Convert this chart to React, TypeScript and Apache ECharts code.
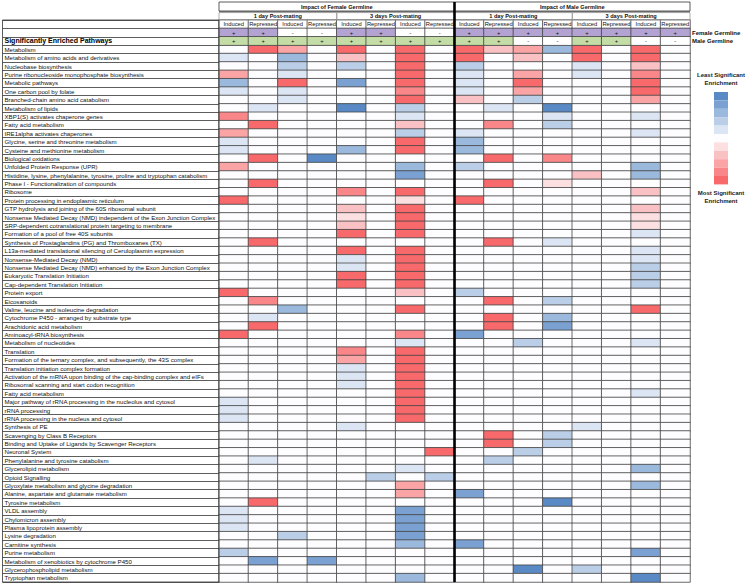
import React, { useEffect, useRef } from 'react';
import * as echarts from 'echarts';

// ---------- DATA ----------
const pathways = [
  'Metabolism',
  'Metabolism of amino acids and derivatives',
  'Nucleobase biosynthesis',
  'Purine ribonucleoside monophosphate biosynthesis',
  'Metabolic pathways',
  'One carbon pool by folate',
  'Branched-chain amino acid catabolism',
  'Metabolism of lipids',
  'XBP1(S) activates chaperone genes',
  'Fatty acid metabolism',
  'IRE1alpha activates chaperones',
  'Glycine, serine and threonine metabolism',
  'Cysteine and methionine metabolism',
  'Biological oxidations',
  'Unfolded Protein Response (UPR)',
  'Histidine, lysine, phenylalanine, tyrosine, proline and tryptophan catabolism',
  'Phase I - Functionalization of compounds',
  'Ribosome',
  'Protein processing in endoplasmic reticulum',
  'GTP hydrolysis and joining of the 60S ribosomal subunit',
  'Nonsense Mediated Decay (NMD) independent of the Exon Junction Complex',
  'SRP-dependent cotranslational protein targeting to membrane',
  'Formation of a pool of free 40S subunits',
  'Synthesis of Prostaglandins (PG) and Thromboxanes (TX)',
  'L13a-mediated translational silencing of Ceruloplasmin expression',
  'Nonsense-Mediated Decay (NMD)',
  'Nonsense Mediated Decay (NMD) enhanced by the Exon Junction Complex',
  'Eukaryotic Translation Initiation',
  'Cap-dependent Translation Initiation',
  'Protein export',
  'Eicosanoids',
  'Valine, leucine and isoleucine degradation',
  'Cytochrome P450 - arranged by substrate type',
  'Arachidonic acid metabolism',
  'Aminoacyl-tRNA biosynthesis',
  'Metabolism of nucleotides',
  'Translation',
  'Formation of the ternary complex, and subsequently, the 43S complex',
  'Translation initiation complex formation',
  'Activation of the mRNA upon binding of the cap-binding complex and eIFs',
  'Ribosomal scanning and start codon recognition',
  'Fatty acid metabolism',
  'Major pathway of rRNA processing in the nucleolus and cytosol',
  'rRNA processing',
  'rRNA processing in the nucleus and cytosol',
  'Synthesis of PE',
  'Scavenging by Class B Receptors',
  'Binding and Uptake of Ligands by Scavenger Receptors',
  'Neuronal System',
  'Phenylalanine and tyrosine catabolism',
  'Glycerolipid metabolism',
  'Opioid Signalling',
  'Glyoxylate metabolism and glycine degradation',
  'Alanine, aspartate and glutamate metabolism',
  'Tyrosine metabolism',
  'VLDL assembly',
  'Chylomicron assembly',
  'Plasma lipoprotein assembly',
  'Lysine degradation',
  'Carnitine synthesis',
  'Purine metabolism',
  'Metabolism of xenobiotics by cytochrome P450',
  'Glycerophospholipid metabolism',
  'Tryptophan metabolism',
];

// enrichment level: -5 = most significant (deep red) ... +5 = least significant (deep blue), 0 = not enriched
const femaleValues = [
  [0, -5, -3, 0, -5, 0, -5, 0],
  [1, 0, 3, 0, -2, 0, -5, 0],
  [0, 0, 2, 0, 2, 0, -5, 0],
  [-3, 0, 1, 0, 0, 0, -5, 0],
  [3, 0, -5, 0, 4, 0, -5, 0],
  [1, 0, 1, 0, 0, 0, -4, 0],
  [0, 0, 1, 0, 0, 0, -5, 0],
  [0, 1, 0, 0, 5, 0, 2, 0],
  [-4, 0, 0, 0, 0, 0, 1, 0],
  [0, -5, 0, 0, 0, 0, -2, 0],
  [-3, 0, 0, 0, 0, 0, 2, 0],
  [1, 0, 0, 0, 0, 0, -5, 0],
  [1, 0, 0, 0, 3, 0, -5, 0],
  [0, -5, 0, 5, 0, 0, 0, 0],
  [-3, 0, 0, 0, 0, 0, 3, 0],
  [0, 0, 0, 0, 0, 0, 4, 0],
  [0, -5, 0, 0, 0, 0, 0, 0],
  [0, 0, 0, 0, -4, 0, -5, 0],
  [-5, 0, 0, 0, 0, 0, -1, 0],
  [0, 0, 0, 0, -2, 0, -5, 0],
  [0, 0, 0, 0, -1, 0, -5, 0],
  [0, 0, 0, 0, -2, 0, -5, 0],
  [0, 0, 0, 0, -5, 0, -5, 0],
  [0, -5, 0, 0, 0, 0, 0, 0],
  [0, 0, 0, 0, -5, 0, -5, 0],
  [0, 0, 0, 0, 1, 0, -5, 0],
  [0, 0, 0, 0, 1, 0, -5, 0],
  [0, 0, 0, 0, -5, 0, -5, 0],
  [0, 0, 0, 0, -5, 0, -5, 0],
  [-5, 0, 0, 0, 0, 0, -2, 0],
  [0, -4, 0, 0, 0, 0, 0, 0],
  [0, 0, 3, 0, 0, 0, -5, 0],
  [0, 1, 0, 0, 0, 0, 0, 0],
  [0, -5, 0, 0, 0, 0, 0, 0],
  [-5, 0, 0, 0, 0, 0, -4, 0],
  [0, 0, 0, 0, 0, 0, 1, 0],
  [0, 0, 0, 0, -4, 0, -5, 0],
  [0, 0, 0, 0, -3, 0, -5, 0],
  [0, 0, 0, 0, 1, 0, -5, 0],
  [0, 0, 0, 0, 1, 0, -5, 0],
  [0, 0, 0, 0, 1, 0, -5, 0],
  [0, 0, 0, 0, 0, 0, -5, 0],
  [1, 0, 0, 0, 0, 0, -5, 0],
  [1, 0, 0, 0, 0, 0, -5, 0],
  [1, 0, 0, 0, 0, 0, -5, 0],
  [0, 0, 0, 0, 1, 0, 0, 0],
  [0, 0, 0, 0, 0, 0, 0, 0],
  [0, 0, 0, 0, 0, 0, 0, 0],
  [0, 0, 0, 0, 0, 0, 0, -5],
  [0, 1, 0, 0, 0, 0, 0, 0],
  [0, 0, 0, 0, 0, 0, 1, 0],
  [0, 0, 0, 0, 0, 2, 0, 2],
  [0, 0, 0, 0, 0, 0, -3, 0],
  [0, 0, 0, 0, 0, 0, -3, 0],
  [0, -5, 0, 0, 0, 0, 0, 0],
  [1, 0, 0, 0, 0, 0, 4, 0],
  [1, 0, 0, 0, 0, 0, 4, 0],
  [1, 0, 0, 0, 0, 0, 4, 0],
  [0, 0, 2, 0, 0, 0, 4, 0],
  [0, 0, 0, 0, 0, 0, 3, 0],
  [2, 0, 0, 0, 0, 0, 0, 0],
  [0, 4, 0, 4, 0, 0, 0, 0],
  [0, 0, 0, 0, 0, 0, 0, 0],
  [0, 0, 0, 0, 0, 0, 3, 0],
];

const maleValues = [
  [-5, -2, -3, 3, -5, 0, -5, 0],
  [-5, 0, -2, 0, -5, 0, -5, 0],
  [2, 0, 0, 0, 1, 0, -2, 0],
  [1, 0, -3, 0, 1, 0, -4, 0],
  [1, 0, -5, 0, 0, 0, -5, 0],
  [1, 0, -3, 0, 0, 0, -5, 0],
  [-2, 0, 2, 0, 0, 0, -3, 0],
  [0, 1, 0, 5, 0, 0, 0, 0],
  [0, 0, 0, 1, 0, 0, 1, 0],
  [0, -4, 0, 2, 0, 0, 0, 0],
  [1, 0, 0, 0, 0, 0, 1, 0],
  [3, 0, 0, 0, 0, 0, 0, 0],
  [3, 0, 0, 0, 0, 0, 0, 0],
  [0, -5, 0, -4, 0, 0, 0, 0],
  [2, 0, 0, 0, 0, 0, 3, 0],
  [0, 0, 0, 0, -2, 0, 3, 0],
  [0, -5, 0, -1, 0, 0, 0, 0],
  [0, 0, 0, 0, 0, 0, -2, 0],
  [-5, 0, 0, 0, 0, 0, 0, 0],
  [0, 0, 0, 0, 0, 0, -2, 0],
  [0, 0, 0, 0, 0, 0, -1, 0],
  [0, 0, 0, 0, 0, 0, -1, 0],
  [0, 0, 0, 0, 0, 0, 1, 0],
  [0, -5, 0, 1, 0, 0, 0, 0],
  [0, 0, 0, 0, 0, 0, 1, 0],
  [0, 0, 0, 0, 0, 0, 1, 0],
  [0, 0, 0, 0, 0, 0, 2, 0],
  [0, 0, 0, 0, 0, 0, 2, 0],
  [0, 0, 0, 0, 0, 0, 2, 0],
  [2, 0, 0, 0, 0, 0, 0, 0],
  [0, -5, 0, 2, 0, 0, 0, 0],
  [0, 0, 0, 0, 0, 0, -5, 0],
  [0, -5, 0, 3, 0, 0, 0, 0],
  [0, -5, 0, 4, 0, 0, 0, 0],
  [4, 0, 0, 0, 0, 0, 0, 0],
  [0, 0, 2, 0, 0, 0, 1, 0],
  [0, 0, 0, 0, 0, 0, 0, 0],
  [0, 0, 0, 0, 0, 0, 0, 0],
  [0, 0, 0, 0, 0, 0, 0, 0],
  [0, 0, 0, 0, 0, 0, 0, 0],
  [0, 0, 0, 0, 0, 0, 0, 0],
  [0, 0, 0, 0, 0, 0, 1, 0],
  [0, 0, 0, 0, 0, 0, 0, 0],
  [0, 0, 0, 0, 0, 0, 0, 0],
  [0, 0, 0, 0, 0, 0, 0, 0],
  [0, 0, 0, 0, 1, 0, 0, 0],
  [0, -5, 0, 2, 0, 0, 0, 0],
  [0, -5, 0, 2, 0, 0, 0, 0],
  [0, 0, 2, 0, 0, 0, 0, 0],
  [0, 2, 0, 0, 0, 0, 0, 0],
  [0, 0, 0, 0, 0, 0, 3, 0],
  [0, 0, 0, 0, 0, 0, 0, 0],
  [0, 0, 0, 0, 0, 0, 3, 0],
  [4, 0, 0, 0, 0, 0, 0, 0],
  [0, 0, 0, 5, 0, 0, 0, 0],
  [0, 0, 0, 0, 0, 0, 0, 0],
  [0, 0, 0, 0, 0, 0, 0, 0],
  [0, 0, 0, 0, 0, 0, 0, 0],
  [0, 0, 0, 0, 0, 0, 0, 0],
  [4, 0, 0, 0, 0, 0, 0, 0],
  [0, 0, 0, 0, 0, 0, 4, 0],
  [0, 0, 0, 0, 0, 0, 0, 0],
  [0, 0, 5, 0, 2, 0, 0, 0],
  [0, 0, 0, 0, 0, 0, 5, 0],
];

const conditionLabels = [
  'Induced', 'Repressed', 'Induced', 'Repressed', 'Induced', 'Repressed', 'Induced', 'Repressed',
  'Induced', 'Repressed', 'Induced', 'Repressed', 'Induced', 'Repressed', 'Induced', 'Repressed',
];
const femaleGermline = ['+', '+', '-', '-', '+', '+', '-', '-', '+', '+', '+', '+', '+', '+', '+', '+'];
const maleGermline = ['+', '+', '+', '+', '+', '+', '+', '+', '+', '+', '-', '-', '+', '+', '-', '-'];
const blockTitles = ['Impact of Female Germline', 'Impact of Male Germline'];
const timeTitles = ['1 day Post-mating', '3 days Post-mating'];
const headerRowLabel = 'Significantly Enriched Pathways';
const germlineLegend = ['Female Germline', 'Male Germline'];
const legendLevels = [-5, -4, -3, -2, -1, 0, 1, 2, 3, 4, 5];
const legendColors = [
  '#F8696B', '#F98689', '#FAA4A6', '#FAC1C4', '#FBDFE1', '#FDFDFF',
  '#DCE5F4', '#BBCEE8', '#9BB8DD', '#7AA1D1', '#5A8AC6',
];

// ---------- LAYOUT ----------
const FONT = 'Liberation Sans, Arial, Helvetica, sans-serif';
const GL = 219;
const GT = 20;
const GW = 471;
const GH = 562;
const NCOL = 16;
const NHEAD = 3;
const NROWS = NHEAD + pathways.length;
const CW = GW / NCOL;
const RH = GH / NROWS;
const PURPLE = '#B2A3D2';
const GREEN = '#C4DDA6';

export default function App() {
  const ref = useRef<HTMLDivElement>(null);

  useEffect(() => {
    if (!ref.current) return;
    const chart = echarts.init(ref.current, undefined, { renderer: 'svg' });

    const yLabels = ['', '', headerRowLabel, ...pathways];
    const yCats = yLabels.map((_, i) => String(i));
    const xCats = conditionLabels.map((_, i) => String(i));

    const cellData: any[] = [];
    pathways.forEach((_, r) => {
      for (let c = 0; c < 8; c++) {
        cellData.push([c, r + NHEAD, femaleValues[r][c]]);
        cellData.push([c + 8, r + NHEAD, maleValues[r][c]]);
      }
    });

    // header cells: code 0 = white, 1 = female-germline purple, 2 = male-germline green
    const headData: any[] = [];
    for (let c = 0; c < NCOL; c++) {
      headData.push({ name: conditionLabels[c], value: [c, 0, 0] });
      headData.push({ name: femaleGermline[c], value: [c, 1, femaleGermline[c] === '+' ? 1 : 0] });
      headData.push({ name: maleGermline[c], value: [c, 2, maleGermline[c] === '+' ? 2 : 0] });
    }

    const graphics: any[] = [];
    graphics.push({ type: 'rect', shape: { x: GL, y: 11, width: GW, height: 1.6 }, style: { fill: '#8c8c8c' }, z: 10 });
    for (let b = 0; b < 2; b++) {
      const x0 = GL + b * 8 * CW;
      graphics.push({
        type: 'rect', shape: { x: x0, y: 2, width: 8 * CW, height: 9 },
        style: { fill: 'none', stroke: '#333', lineWidth: 0.8 }, z: 10,
      });
      graphics.push({
        type: 'text', x: x0 + 4 * CW, y: 6.8, z: 11,
        style: { text: blockTitles[b], align: 'center', verticalAlign: 'middle', fill: '#111', font: `bold 5.6px ${FONT}` },
      });
      for (let t = 0; t < 2; t++) {
        const x1 = x0 + t * 4 * CW;
        graphics.push({
          type: 'rect', shape: { x: x1, y: 12.6, width: 4 * CW, height: GT - 12.6 },
          style: { fill: 'none', stroke: '#999', lineWidth: 0.8 }, z: 10,
        });
        graphics.push({
          type: 'text', x: x1 + 2 * CW, y: 16.4, z: 11,
          style: { text: timeTitles[t], align: 'center', verticalAlign: 'middle', fill: '#111', font: `bold 5.6px ${FONT}` },
        });
      }
    }
    graphics.push({
      type: 'line', shape: { x1: GL + 8 * CW, y1: 2, x2: GL + 8 * CW, y2: GT + GH },
      style: { stroke: '#000', lineWidth: 2.6 }, z: 20,
    });
    graphics.push({
      type: 'rect', shape: { x: 2.5, y: GT, width: GL - 2.5, height: GH },
      style: { fill: 'none', stroke: '#333', lineWidth: 0.8 }, z: 10,
    });
    germlineLegend.forEach((t, i) => {
      graphics.push({
        type: 'text', x: GL + GW + 2, y: GT + (1.5 + i) * RH, z: 11,
        style: { text: t, align: 'left', verticalAlign: 'middle', fill: '#111', font: `bold 6px ${FONT}` },
      });
    });
    graphics.push({
      type: 'text', x: 721, y: 79, z: 11,
      style: { text: 'Least Significant\nEnrichment', align: 'center', verticalAlign: 'middle', lineHeight: 8.8, fill: '#222', font: `bold 6px ${FONT}` },
    });
    graphics.push({
      type: 'text', x: 721, y: 197, z: 11,
      style: { text: 'Most Significant\nEnrichment', align: 'center', verticalAlign: 'middle', lineHeight: 8.8, fill: '#222', font: `bold 6px ${FONT}` },
    });

    const option: any = {
      animation: false,
      backgroundColor: '#ffffff',
      textStyle: { fontFamily: FONT },
      grid: { left: GL, top: GT, width: GW, height: GH, containLabel: false },
      xAxis: {
        type: 'category', data: xCats, position: 'top',
        axisLine: { show: false }, axisTick: { show: false }, axisLabel: { show: false }, splitLine: { show: false },
      },
      yAxis: {
        type: 'category', data: yCats, inverse: true,
        axisLine: { show: true, lineStyle: { color: '#333', width: 0.8 } },
        axisTick: { show: true, length: GL - 2.5, lineStyle: { color: '#333', width: 0.8 } },
        axisLabel: {
          interval: 0, align: 'left', margin: GL - 4.5, fontSize: 6.1, color: '#111', fontFamily: FONT,
          formatter: (_v: string, i: number) => (i === 2 ? `{b|${yLabels[i]}}` : yLabels[i]),
          rich: { b: { fontWeight: 'bold', fontSize: 7, fontFamily: FONT, color: '#000' } },
        },
        splitLine: { show: false },
      },
      visualMap: [
        {
          type: 'piecewise', seriesIndex: 0, dimension: 2, orient: 'vertical',
          left: 714, top: 92, padding: 0, itemWidth: 14, itemHeight: 8.4, itemGap: 0,
          itemSymbol: 'rect', showLabel: false, selectedMode: false,
          pieces: legendLevels.map((v, i) => ({ value: v, color: legendColors[i] })),
        },
        {
          type: 'piecewise', seriesIndex: 1, dimension: 2, show: false, selectedMode: false,
          pieces: [
            { value: 0, color: '#ffffff' },
            { value: 1, color: PURPLE },
            { value: 2, color: GREEN },
          ],
        },
      ],
      series: [
        {
          type: 'heatmap', data: cellData,
          itemStyle: { borderColor: '#444', borderWidth: 0.8 },
          emphasis: { disabled: true },
        },
        {
          type: 'heatmap', data: headData,
          itemStyle: { borderColor: '#444', borderWidth: 0.8 },
          label: { show: true, formatter: '{b}', fontSize: 5.8, color: '#111', fontFamily: FONT },
          emphasis: { disabled: true },
        },
      ],
      graphic: graphics,
    };

    chart.setOption(option);
    return () => chart.dispose();
  }, []);

  return (
    <div
      ref={ref}
      style={{ position: 'fixed', left: 0, top: 0, width: 748, height: 584, background: '#fff' }}
    />
  );
}
